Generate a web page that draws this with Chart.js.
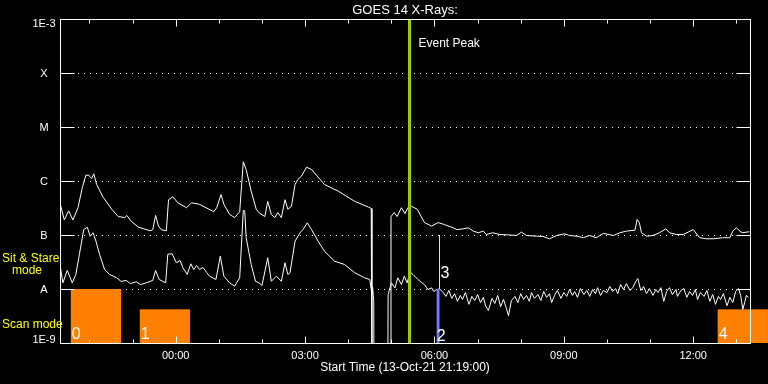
<!DOCTYPE html>
<html><head><meta charset="utf-8">
<script src="https://cdn.jsdelivr.net/npm/chart.js@4.4.1/dist/chart.umd.min.js"></script>
<style>html,body{margin:0;padding:0;background:#000;}canvas{display:block}</style>
</head><body>
<canvas id="c" width="768" height="384"></canvas>
<script>
// Time axis: minutes since start (13-Oct-21 21:19:00)
const longTimes = [0,6,12,18,25,31,36,40,44,47,51,60,72,81,90,93,99,109,125,129,133,137,141,148,151,157,164,176,183,194,214,218,224,228,236,243,250,255,259,266,273,278,285,289,294,299,303,308,313,317,322,327,331,336,343,350,368,387,410,429,433,434,460,460.5,465,469,475,480,484,489,497,507,517,526,535,547,552,561,568,575,582,589,593,602,612,626,635,642,649,663,672,681,691,702,709,719,728,737,746,756,770,779,788,800,803,806,809,816,825,834,843,848,858,867,881,890,899,909,922,932,936,941,946,949,959];
const longFlux = [3.9e-7,1.9e-7,2.8e-7,1.9e-7,3.2e-7,7.5e-7,1.28e-6,1.28e-6,1.11e-6,1.36e-6,8.6e-7,5.0e-7,3.0e-7,2.2e-7,2.1e-7,2.3e-7,1.8e-7,1.4e-7,1.2e-7,1.25e-7,2.3e-7,1.46e-7,1.25e-7,1.2e-7,4.5e-7,5.1e-7,3.95e-7,3.2e-7,3.95e-7,3.7e-7,2.7e-7,3.2e-7,5.6e-7,3.7e-7,2.4e-7,2.1e-7,2.7e-7,2.27e-6,1.63e-6,6.5e-7,3.0e-7,2.5e-7,2.2e-7,4.2e-7,2.4e-7,2.1e-7,2.6e-7,2.1e-7,4.5e-7,3.0e-7,3.4e-7,8.6e-7,1.07e-6,1.23e-6,1.8e-6,1.63e-6,8.6e-7,6.5e-7,4.2e-7,3.3e-7,3.1e-7,1e-10,1e-10,2.2e-7,2.6e-7,2.2e-7,3.2e-7,2.5e-7,3.2e-7,3.4e-7,3.0e-7,1.7e-7,1.46e-7,1.7e-7,1.56e-7,1.36e-7,1.26e-7,1.3e-7,1.36e-7,1.18e-7,1.1e-7,1.18e-7,1.02e-7,1.1e-7,1.02e-7,1.0e-7,0.98e-7,1.13e-7,0.98e-7,0.95e-7,0.94e-7,0.85e-7,0.98e-7,1.05e-7,0.98e-7,0.95e-7,0.89e-7,0.98e-7,0.89e-7,1.07e-7,0.98e-7,1.1e-7,1.18e-7,1.23e-7,1.94e-7,1.7e-7,1.1e-7,0.95e-7,0.98e-7,1.1e-7,1.3e-7,1.1e-7,1.02e-7,1.02e-7,1.26e-7,0.89e-7,0.85e-7,0.85e-7,0.89e-7,0.89e-7,1.18e-7,1.36e-7,1.18e-7,1.1e-7,1.15e-7];

const shortTimes = [0,4,10,14,17,22,27,33,38,42,46,50,55,62,69,79,85,92,98,106,112,120,129,133,138,147,150,156,162,167,171,177,182,186,190,194,199,204,208,217,223,228,236,243,250,255,257,259,266,272,277,281,289,294,301,308,313,317,320,327,334,338,344,350,359,368,382,396,410,424,431,434,435,436.5,437,456,456.5,461,466,470,475,479,483,487,491,498,503,507,512,517,520,524,528,532,537,541,545,549,553,557,560,564,569,573,577,581,585,589,592,596,601,605,609,613,617,621,624,628,633,637,641,645,649,653,656,660,665,669,673,677,681,684,688,692,697,701,705,709,713,716,720,724,729,733,737,741,745,748,752,756,761,765,769,773,776,780,784,788,793,797,801,804,808,812,816,820,825,829,832,836,840,844,848,852,857,859,864,868,872,876,880,884,887,891,896,900,904,908,912,916,919,923,928,932,936,940,944,947,950,953,955,958];
const shortFlux = [2.8e-8,1.3e-8,2.2e-8,1.65e-8,1.3e-8,1.86e-8,4.4e-8,1.26e-7,1.39e-7,9.5e-8,1.1e-7,7.7e-8,4.4e-8,2.3e-8,1.86e-8,1.61e-8,1.38e-8,1.44e-8,1.26e-8,1.36e-8,1.21e-8,1.3e-8,1.44e-8,2.2e-8,1.5e-8,1.3e-8,4.4e-8,4.5e-8,3.06e-8,3.37e-8,2.47e-8,1.86e-8,2.93e-8,2.3e-8,2.72e-8,2.3e-8,2.5e-8,2.02e-8,1.73e-8,1.5e-8,4.05e-8,1.73e-8,1.3e-8,1.13e-8,1.61e-8,2.84e-7,2.8e-7,8.9e-8,2.84e-8,1.39e-8,1.3e-8,1.16e-8,3.78e-8,1.39e-8,1.73e-8,1.39e-8,3.06e-8,1.86e-8,2.0e-8,7.7e-8,1.1e-7,1.26e-7,1.68e-7,1.26e-7,7.7e-8,5.0e-8,3.27e-8,2.84e-8,2.0e-8,1.61e-8,1.5e-8,7.9e-9,1.07e-8,5.9e-9,1e-10,1e-10,7.9e-9,1.3e-8,1.05e-8,1.61e-8,1.21e-8,1.73e-8,1.3e-8,2.08e-8,1.86e-8,1.5e-8,1.32e-8,1.21e-8,9.8e-9,1.05e-8,9.0e-9,9.8e-9,1.0e-8,9.0e-9,7.3e-9,9.4e-9,6.7e-9,8.2e-9,5.9e-9,7.6e-9,6.4e-9,8.6e-9,5.2e-9,7.3e-9,6.1e-9,7.9e-9,5.6e-9,7.0e-9,4.9e-9,4.0e-9,6.7e-9,5.4e-9,7.6e-9,4.7e-9,6.4e-9,4.4e-9,3.2e-9,6.1e-9,7.3e-9,5.6e-9,8.2e-9,6.4e-9,7.6e-9,5.9e-9,8.6e-9,6.7e-9,7.9e-9,6.1e-9,9.0e-9,7.0e-9,8.2e-9,5.6e-9,7.6e-9,9.4e-9,6.7e-9,8.6e-9,7.3e-9,9.8e-9,7.6e-9,9.0e-9,7.0e-9,1.02e-8,7.9e-9,9.4e-9,7.3e-9,9.8e-9,8.2e-9,1.06e-8,7.6e-9,9.4e-9,8.6e-9,1.11e-8,9.0e-9,1.02e-8,8.2e-9,1.21e-8,9.8e-9,1.26e-8,9.4e-9,1.06e-8,1.38e-8,1.56e-8,9.4e-9,1.11e-8,8.2e-9,1.02e-8,7.6e-9,9.8e-9,8.6e-9,1.06e-8,5.9e-9,9.0e-9,1.06e-8,7.9e-9,9.8e-9,7.3e-9,9.4e-9,1.02e-8,7.0e-9,9.0e-9,7.6e-9,9.8e-9,6.4e-9,8.6e-9,7.3e-9,9.4e-9,5.9e-9,7.9e-9,5.2e-9,7.3e-9,6.4e-9,8.2e-9,4.9e-9,7.0e-9,5.6e-9,9.0e-9,1.02e-8,7.6e-9,4.2e-9,5.9e-9,7.6e-9,7.0e-9];

const yTickValues = [1e-9,1e-8,1e-7,1e-6,1e-5,1e-4,1e-3];
const yTickLabels = ['1E-9','A','B','C','M','X','1E-3'];
const xMajorTicks = [161,341,521,701,881];
const xTickLabels = ['00:00','03:00','06:00','09:00','12:00'];
const xMinorTicks = [41,101,221,281,401,461,581,641,761,821,941];

const scanStart = [15,111,915];
const scanEnd = [85,181,985];
const scanTop = [1e-8,4.2e-9,4.2e-9];
const scanLabels = ['0','1','4'];

const eventPeakTime = 485;
const eventPeakLabel = 'Event Peak';
const marker2Start = 524, marker2End = 528, marker2Top = 1e-8, marker2Label = '2';
const marker3Time = 527, marker3Top = 1e-7, marker3Bottom = 1e-8, marker3Label = '3';

const titleText = 'GOES 14 X-Rays:';
const xAxisTitle = 'Start Time (13-Oct-21 21:19:00)';

const FONT = '"Liberation Sans", Arial, sans-serif';

const goesPlugin = {
  id: 'goes',
  beforeDraw(chart) {
    const ctx = chart.ctx;
    ctx.save();
    ctx.fillStyle = '#000';
    ctx.fillRect(0, 0, chart.width, chart.height);
    ctx.restore();
  },
  beforeDatasetsDraw(chart) {
    const { ctx, chartArea: a, scales: { x, y } } = chart;
    ctx.save();
    // dotted grid lines
    ctx.strokeStyle = '#fff';
    ctx.lineWidth = 1;
    ctx.setLineDash([1, 5]);
    for (let i = 1; i < yTickValues.length - 1; i++) {
      const py = Math.round(y.getPixelForValue(yTickValues[i])) + 0.5;
      ctx.beginPath();
      ctx.moveTo(a.left + 18, py);
      ctx.lineTo(a.right - 15, py);
      ctx.stroke();
    }
    ctx.setLineDash([]);
    // scan mode blocks
    ctx.fillStyle = '#ff8000';
    const yb = y.getPixelForValue(1e-9);
    for (let i = 0; i < scanStart.length; i++) {
      const x0 = x.getPixelForValue(scanStart[i]);
      const x1 = x.getPixelForValue(scanEnd[i]);
      const y0 = y.getPixelForValue(scanTop[i]);
      ctx.fillRect(x0, y0, x1 - x0, yb - y0);
    }
    ctx.restore();
  },
  afterDatasetsDraw(chart) {
    const { ctx, chartArea: a, scales: { x, y } } = chart;
    ctx.save();
    const yb = y.getPixelForValue(1e-9);
    // blue marker bar
    ctx.fillStyle = '#7777ff';
    const bx0 = x.getPixelForValue(marker2Start), bx1 = x.getPixelForValue(marker2End);
    const by0 = y.getPixelForValue(marker2Top);
    ctx.fillRect(bx0, by0, bx1 - bx0, yb - by0);
    // yellow marker line
    ctx.strokeStyle = '#ffff00';
    ctx.lineWidth = 1;
    const yx = Math.round(x.getPixelForValue(marker3Time)) + 0.5;
    ctx.beginPath();
    ctx.moveTo(yx, y.getPixelForValue(marker3Top));
    ctx.lineTo(yx, y.getPixelForValue(marker3Bottom));
    ctx.stroke();
    // event peak line
    ctx.strokeStyle = '#99cc00';
    ctx.lineWidth = 3;
    const ex = Math.round(x.getPixelForValue(eventPeakTime)) + 0.5;
    ctx.beginPath();
    ctx.moveTo(ex, a.top);
    ctx.lineTo(ex, a.bottom);
    ctx.stroke();

    // axes box
    ctx.strokeStyle = '#fff';
    ctx.lineWidth = 1;
    const L = Math.round(a.left) + 0.5, R = Math.round(a.right) + 0.5;
    const T = Math.round(a.top) + 0.5, B = Math.round(a.bottom) + 0.5;
    ctx.strokeRect(L, T, R - L, B - T);
    // y stubs
    for (let i = 1; i < yTickValues.length - 1; i++) {
      const py = Math.round(y.getPixelForValue(yTickValues[i])) + 0.5;
      ctx.beginPath();
      ctx.moveTo(L, py); ctx.lineTo(L + 14, py);
      ctx.moveTo(R - 14, py); ctx.lineTo(R, py);
      ctx.stroke();
    }
    // x ticks
    const tick = (v, len) => {
      const px = Math.round(x.getPixelForValue(v)) + 0.5;
      ctx.beginPath();
      ctx.moveTo(px, T); ctx.lineTo(px, T + len);
      ctx.moveTo(px, B); ctx.lineTo(px, B - len);
      ctx.stroke();
    };
    xMajorTicks.forEach(v => tick(v, 7));
    xMinorTicks.forEach(v => tick(v, 4));

    // text
    ctx.fillStyle = '#fff';
    ctx.textBaseline = 'alphabetic';
    ctx.font = '11px ' + FONT;
    ctx.textAlign = 'center';
    yTickValues.forEach((v, i) => {
      let py = y.getPixelForValue(v) + 4;
      if (i === 0) py = y.getPixelForValue(v);
      if (i === yTickValues.length - 1) py = y.getPixelForValue(v) + 7.5;
      ctx.fillText(yTickLabels[i], 44, py);
    });
    xMajorTicks.forEach((v, i) => {
      ctx.fillText(xTickLabels[i], x.getPixelForValue(v), a.bottom + 16);
    });
    ctx.font = '12px ' + FONT;
    ctx.fillText(xAxisTitle, (a.left + a.right) / 2, a.bottom + 28);
    ctx.font = '13px ' + FONT;
    ctx.fillText(titleText, (a.left + a.right) / 2, 14);

    ctx.textAlign = 'left';
    ctx.font = '12px ' + FONT;
    ctx.fillText(eventPeakLabel, ex + 9, 47);

    // mode labels
    ctx.fillStyle = '#ffff00';
    ctx.fillText('Sit & Stare', 2, y.getPixelForValue(1e-8) - 27);
    ctx.fillText('mode', 12, y.getPixelForValue(1e-8) - 15);
    ctx.fillText('Scan mode', 2, yb - 15);

    // block numbers
    ctx.fillStyle = '#fff';
    ctx.font = '16px ' + FONT;
    for (let i = 0; i < scanStart.length; i++) {
      ctx.fillText(scanLabels[i], x.getPixelForValue(scanStart[i]) + 1, yb - 4);
    }
    ctx.fillText(marker2Label, bx0, yb - 2);
    ctx.fillText(marker3Label, yx + 1, y.getPixelForValue(marker3Bottom) - 11);
    ctx.restore();
  }
};

new Chart(document.getElementById('c'), {
  type: 'line',
  data: {
    datasets: [
      { label: 'long', data: longTimes.map((t, i) => ({ x: t, y: longFlux[i] })), borderColor: '#ffffff', borderWidth: 1, pointRadius: 0, tension: 0, fill: false },
      { label: 'short', data: shortTimes.map((t, i) => ({ x: t, y: shortFlux[i] })), borderColor: '#ffffff', borderWidth: 1, pointRadius: 0, tension: 0, fill: false }
    ]
  },
  options: {
    responsive: false,
    animation: false,
    devicePixelRatio: 1,
    layout: { padding: { left: 60, right: 18, top: 19, bottom: 41 } },
    plugins: { legend: { display: false }, tooltip: { enabled: false }, title: { display: false } },
    scales: {
      x: { type: 'linear', min: 0, max: 960, display: false },
      y: { type: 'logarithmic', min: 1e-9, max: 1e-3, display: false }
    }
  },
  plugins: [goesPlugin]
});
</script>
</body></html>
